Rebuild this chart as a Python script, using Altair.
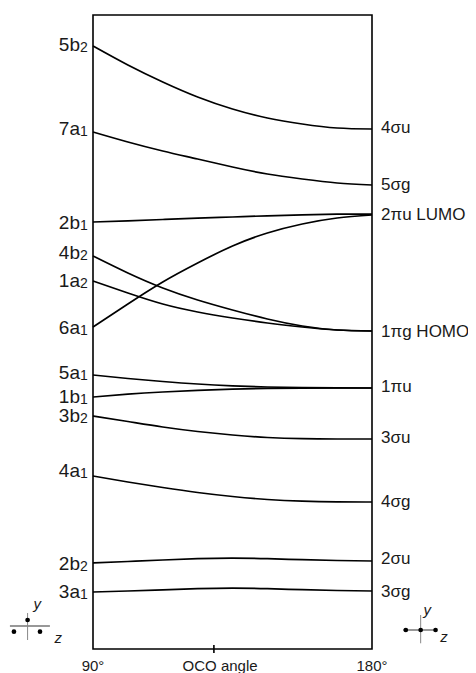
import altair as alt
import pandas as pd

FONT = "Liberation Sans"
INK = "#1a1a1a"

# bend angle samples (degrees)
angles = [90, 101.25, 112.5, 123.75, 135, 146.25, 157.5, 168.75, 180]

# orbital energies (arbitrary units) at each angle
orbitals = ["5b2", "7a1", "2b1", "4b2", "1a2", "6a1", "5a1", "1b1", "3b2", "4a1", "2b2", "3a1"]
e_5b2 = [603, 584, 567, 552, 540, 531, 525, 521, 520]
e_7a1 = [517, 507, 498, 490, 482, 475, 470, 466, 464]
e_2b1 = [427, 428.2, 429.5, 430.8, 432, 433.2, 434.2, 434.8, 434.8]
e_4b2 = [393, 376, 361, 349, 339, 330, 323, 319, 318]
e_1a2 = [368, 356, 345, 337, 331, 326, 322, 319, 318]
e_6a1 = [322, 345, 367, 386, 403, 416, 425, 431, 434]
e_5a1 = [274, 270.5, 267.5, 265, 263.2, 262, 261.4, 261.1, 261]
e_1b1 = [252, 254.8, 257, 258.7, 259.9, 260.6, 260.9, 261, 261]
e_3b2 = [233, 227.5, 222, 217.5, 214, 211.5, 210.3, 210, 210]
e_4a1 = [173, 167, 161.5, 156.5, 152.5, 149.5, 147.8, 147.1, 147]
e_2b2 = [86, 87.5, 89, 90.3, 90.8, 90.3, 89.3, 88.5, 88]
e_3a1 = [57, 58, 59.2, 60.3, 60.8, 60.3, 59.3, 58.5, 58]
series = [e_5b2, e_7a1, e_2b1, e_4b2, e_1a2, e_6a1, e_5a1, e_1b1, e_3b2, e_4a1, e_2b2, e_3a1]

# left (bent, C2v) labels
left_main = ["5b", "7a", "2b", "4b", "1a", "6a", "5a", "1b", "3b", "4a", "2b", "3a"]
left_sub = ["2", "1", "1", "2", "2", "1", "1", "1", "2", "1", "2", "1"]
left_label_e = [605, 521, 427, 397, 369, 322, 277, 253, 234, 179, 86, 58]

# right (linear, D∞h) labels
right_text = ["4σu", "5σg", "2πu LUMO", "1πg HOMO", "1πu", "3σu", "4σg", "2σu", "3σg"]
right_label_e = [521, 464, 434, 317, 262, 211, 147, 90, 57]

# bottom axis texts
bottom_x = [90, 131, 180]
bottom_text = ["90°", "OCO angle", "180°"]
bottom_e = [-16.5, -16.5, -16.5]
tick_x = [129]
tick_e = [-4]
tick_e2 = [4]

# coordinate-system glyphs (bent molecule left, linear right), in chart units
glyph_hx = [63.2, 190.1]
glyph_hx2 = [76.1, 200.9]
glyph_hy = [23, 19]
glyph_vx = [68.9, 195.7]
glyph_vy = [36, 34]
glyph_vy2 = [9, 5.7]
atom_x = [68.9, 64.5, 72.9, 190.9, 195.7, 200.5]
atom_e = [29, 17.3, 17.3, 19, 19, 19]
axis_lbl_x = [72.0, 78.8, 197.8, 203.2]
axis_lbl_e = [45, 11.3, 39, 12.3]
axis_lbl_t = ["y", "z", "y", "z"]

rows = []
for name, vals in zip(orbitals, series):
    for a, v in zip(angles, vals):
        rows.append({"orb": name, "angle": a, "E": v})
df_lines = pd.DataFrame(rows)

xs = alt.Scale(domain=[90, 180], nice=False, zero=False)
ys = alt.Scale(domain=[0, 634], nice=False, zero=False)
X = lambda f: alt.X(f, type="quantitative", scale=xs, axis=None)
Y = lambda f: alt.Y(f, type="quantitative", scale=ys, axis=None)

lines = alt.Chart(df_lines).mark_line(
    interpolate="natural", color="black", strokeWidth=1.7
).encode(x=X("angle"), y=Y("E"), detail="orb:N")

df_left = pd.DataFrame({"angle": [90] * len(left_main), "E": left_label_e,
                        "main": left_main, "sub": left_sub})
left_main_t = alt.Chart(df_left).mark_text(
    align="right", baseline="alphabetic", dx=-13, dy=7, fontSize=19, font=FONT, color=INK
).encode(x=X("angle"), y=Y("E"), text="main:N")
left_sub_t = alt.Chart(df_left).mark_text(
    align="left", baseline="alphabetic", dx=-13, dy=8, fontSize=14, font=FONT, color=INK
).encode(x=X("angle"), y=Y("E"), text="sub:N")

df_right = pd.DataFrame({"angle": [180] * len(right_text), "E": right_label_e, "t": right_text})
right_t = alt.Chart(df_right).mark_text(
    align="left", baseline="middle", dx=9, fontSize=17, font=FONT, color=INK
).encode(x=X("angle"), y=Y("E"), text="t:N")

df_bottom = pd.DataFrame({"angle": bottom_x, "E": bottom_e, "t": bottom_text})
bottom_t = alt.Chart(df_bottom).mark_text(
    align="center", baseline="middle", fontSize=15, font=FONT, color=INK, clip=False
).encode(x=X("angle"), y=Y("E"), text="t:N")

df_tick = pd.DataFrame({"angle": tick_x, "E": tick_e, "E2": tick_e2})
tick = alt.Chart(df_tick).mark_rule(color="black", strokeWidth=1.6).encode(
    x=X("angle"), y=Y("E"), y2="E2")

df_gh = pd.DataFrame({"x": glyph_hx, "x2": glyph_hx2, "y": glyph_hy})
gh = alt.Chart(df_gh).mark_rule(color="#333", strokeWidth=1.2).encode(
    x=X("x"), x2="x2", y=Y("y"))
df_gv = pd.DataFrame({"x": glyph_vx, "y": glyph_vy, "y2": glyph_vy2})
gv = alt.Chart(df_gv).mark_rule(color="#888", strokeWidth=1).encode(
    x=X("x"), y=Y("y"), y2="y2")
df_atoms = pd.DataFrame({"x": atom_x, "E": atom_e})
atoms = alt.Chart(df_atoms).mark_point(
    filled=True, color="black", size=22, opacity=1
).encode(x=X("x"), y=Y("E"))
df_al = pd.DataFrame({"x": axis_lbl_x, "E": axis_lbl_e, "t": axis_lbl_t})
axlbl = alt.Chart(df_al).mark_text(
    align="center", baseline="middle", fontSize=15, font=FONT, fontStyle="italic", color=INK
).encode(x=X("x"), y=Y("E"), text="t:N")

chart = alt.layer(
    lines, left_main_t, left_sub_t, right_t, bottom_t, tick, gh, gv, atoms, axlbl
).properties(
    width=279, height=634,
    padding={"left": 85, "top": 7, "right": 96, "bottom": 24},
    autosize=alt.AutoSizeParams(type="none"),
).configure_view(stroke="black", strokeWidth=1.6)

chart.save("out.html", embed_options={"renderer": "svg", "actions": False})
